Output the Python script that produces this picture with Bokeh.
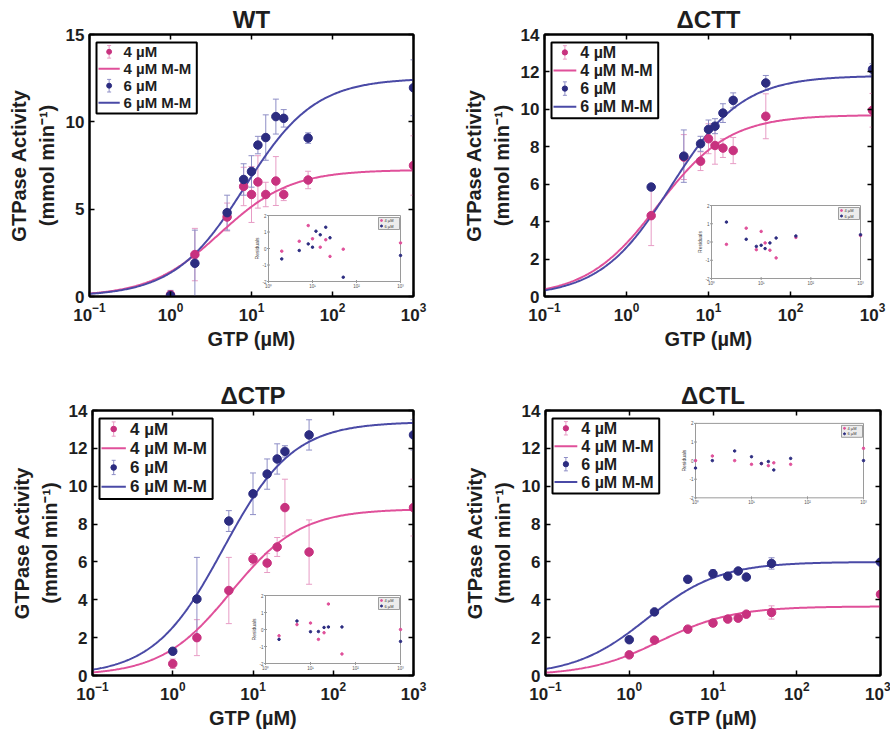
import numpy as np
from bokeh.plotting import figure
from bokeh.layouts import column, row
from bokeh.models import (Range1d, LogScale, LinearScale, FixedTicker, LogAxis, LinearAxis,
                          ColumnDataSource, Whisker, TeeHead)
from bokeh.core.properties import value
from bokeh.embed import file_html
from bokeh.resources import INLINE

# ---------------- data ----------------
# WT
wt_x = [1, 2, 5, 8, 10, 12, 15, 20, 25, 50, 1000]
wt_4_y = [0.1, 2.4, 4.55, 6.3, 5.84, 6.56, 5.84, 6.61, 5.84, 6.67, 7.5]
wt_4_err = [0.2, 1.5, 0.8, 1.1, 1.6, 1.5, 0.7, 1.4, 0.35, 0.5, 1.7]
wt_6_y = [0.05, 1.9, 4.8, 6.7, 7.16, 8.67, 9.1, 10.3, 10.2, 9.07, 11.95]
wt_6_err = [0.3, 1.9, 1.0, 0.9, 0.9, 0.5, 1.3, 1.0, 0.5, 0.3, 1.6]
wt_fit = [7.25, 4.1, 12.5, 8.2]          # Vmax(4uM), Km(4uM), Vmax(6uM), Km(6uM)
wt_res_x4 = [2, 5, 8, 10, 15, 20, 25, 50, 1000]
wt_res_4 = [-0.16, 0.44, 1.39, 0.59, 0.08, 0.53, -0.48, -0.04, 0.34]
wt_res_x6 = [2, 5, 8, 10, 12, 15, 20, 25, 50, 1000]
wt_res_6 = [-0.63, -0.12, 0.28, 0.08, 1.05, 0.83, 1.29, 0.65, -1.74, -0.42]

# dCTT
ctt_x = [2, 5, 8, 10, 12, 15, 20, 50, 1000]
ctt_4_y = [4.32, 7.45, 7.23, 8.43, 8.07, 7.93, 7.8, 9.63, 9.95]
ctt_4_err = [1.6, 1.2, 0.5, 0.8, 1.0, 0.5, 0.7, 1.2, 0.9]
ctt_6_y = [5.85, 7.5, 8.16, 8.93, 9.1, 9.8, 10.48, 11.41, 12.14]
ctt_6_err = [0.15, 1.4, 0.4, 0.5, 0.4, 0.5, 0.4, 0.4, 0.3]
ctt_fit = [9.7, 2.4, 11.8, 3.5]
ctt_res_x4 = [2, 5, 8, 10, 12, 15, 20, 50, 1000]
ctt_res_4 = [-0.13, 0.76, -0.42, 0.58, -0.05, -0.45, -0.87, 0.25, 0.36]
ctt_res_x6 = [2, 5, 8, 10, 12, 15, 20, 50, 1000]
ctt_res_6 = [1.09, 0.15, -0.24, -0.18, -0.36, -0.05, 0.22, 0.33, 0.40]

# dCTP
ctp_x = [1, 2, 5, 10, 15, 20, 25, 50, 1000]
ctp_4_y = [0.62, 2.0, 4.49, 6.15, 5.94, 6.79, 8.87, 6.52, 8.87]
ctp_4_err = [0.25, 0.95, 1.75, 0.3, 0.5, 0.5, 1.5, 1.7, 1.5]
ctp_6_y = [1.28, 4.04, 8.16, 9.6, 10.64, 11.44, 11.84, 12.71, 12.71]
ctp_6_err = [0.1, 2.2, 0.55, 1.1, 0.8, 0.8, 0.3, 0.8, 0.8]
ctp_fit = [8.8, 5.3, 13.4, 4.26]
ctp_res_x4 = [2, 5, 10, 15, 20, 25, 50, 1000]
ctp_res_4 = [-0.37, 0.29, 0.38, -0.58, -0.19, 1.5, -1.44, 0.0]
ctp_res_x6 = [2, 5, 10, 15, 20, 25, 50, 1000]
ctp_res_6 = [-0.58, 0.5, -0.13, -0.12, 0.12, 0.15, 0.15, -0.7]

# dCTL
ctl_x = [1, 2, 5, 10, 15, 20, 25, 50, 1000]
ctl_4_y = [1.09, 1.87, 2.45, 2.77, 2.98, 3.03, 3.24, 3.33, 4.29]
ctl_4_err = [0.05, 0.08, 0.08, 0.15, 0.1, 0.1, 0.08, 0.35, 0.15]
ctl_6_y = [1.89, 3.36, 5.08, 5.38, 5.25, 5.52, 5.2, 5.92, 5.99]
ctl_6_err = [0.05, 0.1, 0.08, 0.2, 0.1, 0.08, 0.05, 0.3, 0.1]
ctl_fit = [3.65, 2.35, 6.0, 1.63]
ctl_res_x4 = [1, 2, 5, 10, 15, 20, 25, 50, 1000]
ctl_res_4 = [0.0, 0.25, 0.0, -0.2, -0.16, -0.27, -0.12, -0.2, 0.66]
ctl_res_x6 = [1, 2, 5, 10, 15, 20, 25, 50, 1000]
ctl_res_6 = [-0.4, 0.0, 0.52, 0.21, -0.16, -0.05, -0.5, 0.12, 0.0]

x_ticks = [0.1, 1, 10, 100, 1000]
inset_x_ticks = [1, 10, 100, 1000]
inset_x_labels = ["10\u2070", "10\u00b9", "10\u00b2", "10\u00b3"]
inset_y_ticks = [-2, -1, 0, 1, 2]
inset_y_labels = ["-2", "-1", "0", "1", "2"]
series_labels = ["4 \u00b5M", "4 \u00b5M M-M", "6 \u00b5M", "6 \u00b5M M-M"]

PINK_PT, PINK_LN, PINK_ERR = "#c8327f", "#e0509a", "#e79cc5"
BLUE_PT, BLUE_LN, BLUE_ERR = "#2c2c80", "#4a4aa6", "#8e8ec6"
TXT = "#1e1e1e"
FONT = "Liberation Sans"


def style_axis(ax, size="17px"):
    ax.axis_line_width = 2
    ax.axis_line_color = "black"
    ax.major_tick_in = 5
    ax.major_tick_out = 0
    ax.major_tick_line_width = 1.5
    ax.minor_tick_line_color = None
    ax.major_label_text_font = FONT
    ax.major_label_text_font_style = "bold"
    ax.major_label_text_font_size = size
    ax.major_label_text_color = TXT
    ax.axis_label_text_font = FONT
    ax.axis_label_text_font_style = "bold"
    ax.axis_label_text_font_size = "20px"
    ax.axis_label_text_color = TXT


def panel(title, x, y4, e4, y6, e6, fit, rx4, r4, rx6, r6, ymax, ystep,
          fw, fh, bl, br, bt, bb, inset, leg_font):
    p = figure(width=fw, height=fh, x_axis_type="log",
               x_range=Range1d(0.1, 1000), y_range=Range1d(0, ymax),
               output_backend="svg", toolbar_location=None,
               min_border_left=bl, min_border_right=br,
               min_border_top=bt, min_border_bottom=bb, title=title)
    p.grid.visible = False
    p.outline_line_color = "black"
    p.outline_line_width = 2
    p.title.align = "center"
    p.title.text_font = FONT
    p.title.text_font_style = "bold"
    p.title.text_font_size = "24px"
    p.title.text_color = TXT
    p.title.standoff = 3

    yt = [float(v) for v in np.arange(0, ymax + 0.01, ystep)]
    p.xaxis.ticker = FixedTicker(ticks=x_ticks, minor_ticks=[])
    p.yaxis.ticker = FixedTicker(ticks=yt, minor_ticks=[])
    style_axis(p.xaxis[0])
    style_axis(p.yaxis[0])
    p.xaxis.axis_label = "GTP (\u00b5M)"
    p.yaxis.axis_label = "GTPase Activity\n(mmol min\u207b\u00b9)"
    p.yaxis.axis_label_text_line_height = 1.25
    p.xaxis.major_label_standoff = 6
    p.yaxis.major_label_standoff = 5
    p.xaxis.axis_label_standoff = 4
    p.yaxis.axis_label_standoff = 5

    top = LogAxis(ticker=FixedTicker(ticks=x_ticks, minor_ticks=[]))
    right = LinearAxis(ticker=FixedTicker(ticks=yt, minor_ticks=[]))
    for ax in (top, right):
        style_axis(ax)
        ax.major_label_text_font_size = "1px"
        ax.major_label_text_color = None
        ax.major_label_standoff = 0
    p.add_layout(top, "above")
    p.add_layout(right, "right")

    # error bars
    s4 = ColumnDataSource(dict(x=x, y=y4, lo=[a - b for a, b in zip(y4, e4)],
                               hi=[a + b for a, b in zip(y4, e4)]))
    s6 = ColumnDataSource(dict(x=x, y=y6, lo=[a - b for a, b in zip(y6, e6)],
                               hi=[a + b for a, b in zip(y6, e6)]))
    for s, c in ((s4, PINK_ERR), (s6, BLUE_ERR)):
        w = Whisker(source=s, base="x", lower="lo", upper="hi", line_color=c, line_width=1,
                    upper_head=TeeHead(size=6, line_color=c, line_width=1),
                    lower_head=TeeHead(size=6, line_color=c, line_width=1))
        p.add_layout(w)

    # Michaelis-Menten fit curves from the fitted parameters
    xc = np.logspace(-1, 3, 300)
    v4, k4, v6, k6 = fit
    p.line(xc, v4 * xc / (k4 + xc), line_color=PINK_LN, line_width=2)
    p.line(xc, v6 * xc / (k6 + xc), line_color=BLUE_LN, line_width=2)

    p.scatter("x", "y", source=s4, size=8.5, fill_color=PINK_PT, line_color=PINK_PT)
    p.scatter("x", "y", source=s6, size=8.5, fill_color=BLUE_PT, line_color=BLUE_PT)

    W = fw - bl - br
    H = fh - bt - bb

    # pixel-space ranges (origin at the frame's top-left corner, y downward)
    p.extra_x_ranges = {"sx": Range1d(0, W)}
    p.extra_y_ranges = {"sy": Range1d(H, 0)}
    p.extra_x_scales = {"sx": LinearScale()}
    p.extra_y_scales = {"sy": LinearScale()}

    # ---------------- legend (drawn in pixel space) ----------------
    f = leg_font
    pk = dict(x_range_name="sx", y_range_name="sy")
    m = 7
    pitch = 1.13 * f
    c0 = m + 1 + 0.62 * f
    rows = [c0 + i * pitch for i in range(4)]
    tx = m + 1.8 * f
    gx0, gx1 = m + 2, m + 1.55 * f
    gc = 0.5 * (gx0 + gx1)
    box_r = tx + 4.62 * f + 4
    p.quad(left=[m], right=[box_r], top=[m + 1], bottom=[rows[3] + 0.72 * f],
           fill_color="white", line_color="black", line_width=2, **pk)
    p.text(x=[tx] * 4, y=rows, text=series_labels, text_baseline="middle",
           text_font=value(FONT), text_font_style="bold", text_font_size=f"{f}px",
           text_color=TXT, **pk)
    for i, (cl, cp, ce) in ((1, (PINK_LN, PINK_PT, PINK_ERR)), (3, (BLUE_LN, BLUE_PT, BLUE_ERR))):
        p.segment(x0=[gx0], x1=[gx1], y0=[rows[i]], y1=[rows[i]], line_color=cl, line_width=2, **pk)
        yc = rows[i - 1]
        h = 0.42 * f
        p.segment(x0=[gc, gc - 2, gc - 2], x1=[gc, gc + 2, gc + 2],
                  y0=[yc - h, yc - h, yc + h], y1=[yc + h, yc - h, yc + h],
                  line_color=ce, line_width=1, **pk)
        p.scatter(x=[gc], y=[yc], size=0.33 * f, fill_color=cp, line_color=cp, **pk)

    # ---------------- inset (residuals) ----------------
    il, ir, it, ib = inset
    dx = 3.0 / (ir - il)
    dy = 4.0 / (ib - it)
    p.extra_x_ranges["ix"] = Range1d(10 ** (-il * dx), 10 ** (3 + (W - ir) * dx))
    p.extra_x_scales["ix"] = LogScale()
    p.extra_y_ranges["iy"] = Range1d(-2 - (H - ib) * dy, 2 + it * dy)
    kw = dict(x_range_name="ix", y_range_name="iy")
    p.quad(left=[1], right=[1000], bottom=[-2], top=[2], fill_color="white",
           line_color="#9a9a9a", line_width=1, **kw)
    p.scatter(x=[1] * 5, y=inset_y_ticks, marker="dash", size=3, line_color="#9a9a9a", **kw)
    p.scatter(x=inset_x_ticks, y=[-2] * 4, marker="dash", angle=np.pi / 2, size=3,
              line_color="#9a9a9a", **kw)
    p.text(x=[1] * 5, y=inset_y_ticks, text=inset_y_labels, x_offset=-2,
           text_align="right", text_baseline="middle", text_font_size="4.5px",
           text_color="#555555", **kw)
    p.text(x=inset_x_ticks, y=[-2] * 4, text=inset_x_labels, y_offset=2,
           text_align="center", text_baseline="top", text_font_size="4.5px",
           text_color="#555555", **kw)
    p.text(x=[1], y=[0], text=["Residuals"], x_offset=-9, angle=np.pi / 2,
           text_align="center", text_baseline="bottom", text_font_size="5px",
           text_color="#444444", **kw)
    p.scatter(x=rx4, y=r4, size=2.5, fill_color=PINK_LN, line_color=PINK_LN, **kw)
    p.scatter(x=rx6, y=r6, size=2.5, fill_color=BLUE_PT, line_color=BLUE_PT, **kw)
    # mini legend box
    lx0 = 10 ** (3 - 22 * dx)
    lx1 = 10 ** (3 - 1 * dx)
    p.quad(left=[lx0], right=[lx1], bottom=[2 - 14 * dy], top=[2 - 2 * dy],
           fill_color="#ececec", line_color="#888888", line_width=0.8, **kw)
    mx = 10 ** (3 - 19 * dx)
    tx2 = 10 ** (3 - 16 * dx)
    p.scatter(x=[mx, mx], y=[2 - 5 * dy, 2 - 10.5 * dy], size=2,
              fill_color=[PINK_LN, BLUE_PT], line_color=[PINK_LN, BLUE_PT], **kw)
    p.text(x=[tx2, tx2], y=[2 - 5 * dy, 2 - 10.5 * dy], text=[series_labels[0], series_labels[2]],
           text_baseline="middle", text_font_size="4px", text_color="#333333", **kw)
    return p


p1 = panel("WT", wt_x, wt_4_y, wt_4_err, wt_6_y, wt_6_err, wt_fit,
           wt_res_x4, wt_res_4, wt_res_x6, wt_res_6, 15, 5,
           445, 367, 89, 32, 34, 71, (179, 311, 181, 247), 15)
p2 = panel("\u0394CTT", ctt_x, ctt_4_y, ctt_4_err, ctt_6_y, ctt_6_err, ctt_fit,
           ctt_res_x4, ctt_res_4, ctt_res_x6, ctt_res_6, 14, 2,
           445, 367, 99, 18, 34, 71, (167, 316, 171, 244), 16)
p3 = panel("\u0394CTP", ctp_x, ctp_4_y, ctp_4_err, ctp_6_y, ctp_6_err, ctp_fit,
           ctp_res_x4, ctp_res_4, ctp_res_x6, ctp_res_6, 14, 2,
           445, 367, 92, 32, 43, 59, (173, 308, 185, 253), 17)
p4 = panel("\u0394CTL", ctl_x, ctl_4_y, ctl_4_err, ctl_6_y, ctl_6_err, ctl_fit,
           ctl_res_x4, ctl_res_4, ctl_res_x6, ctl_res_6, 14, 2,
           445, 367, 100, 10, 43, 57, (150, 318, 13, 88), 16)

layout = column(row(p1, p2), row(p3, p4))
open("out.html", "w").write(file_html(layout, INLINE))
